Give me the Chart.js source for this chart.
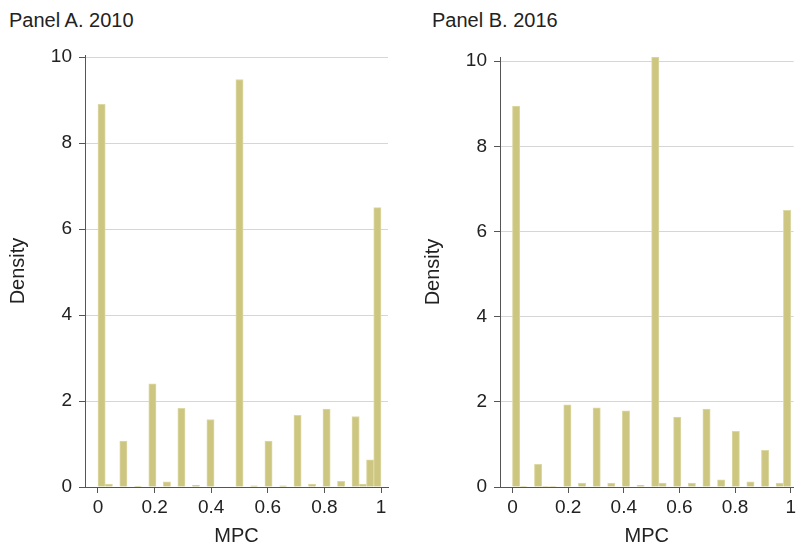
<!DOCTYPE html>
<html>
<head>
<meta charset="utf-8">
<script src="https://cdn.jsdelivr.net/npm/chart.js@4.4.1/dist/chart.umd.min.js"></script>
<style>
  html, body { margin: 0; padding: 0; background: #fff; overflow: hidden; }
  body { width: 799px; height: 546px; position: relative; }
  .panel { position: absolute; top: 0; height: 546px; }
  .ptitle { position: absolute; top: 9px; font: 20px "Liberation Sans", Arial, sans-serif; color: #222; white-space: nowrap; }
</style>
</head>
<body>
<div class="ptitle" style="left:9px">Panel A. 2010</div>
<div class="ptitle" style="left:432px">Panel B. 2016</div>
<div class="panel" style="left:0;width:400px"><canvas id="panel_a"></canvas></div>
<div class="panel" style="left:415px;width:384px"><canvas id="panel_b"></canvas></div>
<script>
  // histogram densities, one value per bin, bins span 0..1
  const binsA = 39;
  const densityA = [8.9, 0.07, 0, 1.07, 0, 0.02, 0, 2.4, 0, 0.12, 0, 1.83, 0, 0.04, 0, 1.57, 0, 0, 0, 9.48,
    0, 0.03, 0, 1.07, 0, 0.03, 0, 1.67, 0, 0.07, 0, 1.81, 0, 0.13, 0, 1.64, 0.07, 0.63, 6.5];
  const binsB = 38;
  const densityB = [8.95, 0.01, 0, 0.53, 0.01, 0.01, 0, 1.93, 0, 0.09, 0, 1.86, 0, 0.09, 0, 1.79, 0, 0.04, 0, 10.1,
    0.09, 0, 1.64, 0, 0.09, 0, 1.83, 0, 0.17, 0, 1.31, 0, 0.12, 0, 0.86, 0, 0.09, 6.5];
  const xTicks = [0, 0.2, 0.4, 0.6, 0.8, 1];
  const yTicks = [0, 2, 4, 6, 8, 10];

  const FONT = '"Liberation Sans", Arial, sans-serif';
  const TXT = '#222';
  const AXIS = '#555';

  function histogram(id, bins, values, o) {
    const pts = values.map((v, i) => ({ x: (i + 0.5) / bins, y: v }));
    return new Chart(document.getElementById(id), {
      type: 'bar',
      data: {
        datasets: [{
          data: pts,
          backgroundColor: '#cdc680',
          borderColor: '#dcd8a4',
          borderWidth: 1,
          barPercentage: 1,
          categoryPercentage: 1
        }]
      },
      options: {
        responsive: false,
        animation: false,
        devicePixelRatio: 1,
        layout: { padding: { top: o.top, right: o.right, left: 0, bottom: 0 } },
        plugins: { legend: { display: false }, tooltip: { enabled: false } },
        scales: {
          x: {
            type: 'linear',
            offset: false,
            min: o.xmin,
            max: o.xmax,
            afterBuildTicks: s => { s.ticks = xTicks.map(v => ({ value: v })); },
            afterFit: s => { s.height = 59; },
            grid: { offset: false, drawOnChartArea: false, tickLength: 6, tickColor: AXIS },
            border: { color: AXIS, width: 1 },
            ticks: { font: { family: FONT, size: 19 }, color: TXT, padding: 3, maxRotation: 0,
              callback: v => String(v) },
            title: { display: true, text: 'MPC', font: { family: FONT, size: 20, lineHeight: 1 },
              color: TXT, padding: { top: 0, bottom: 0 } }
          },
          y: {
            min: 0,
            max: o.ymax,
            afterBuildTicks: s => { s.ticks = yTicks.map(v => ({ value: v })); },
            afterFit: s => { s.width = 85; },
            grid: { tickLength: 6, tickColor: AXIS,
              color: c => (c.tick && c.tick.value === 0 ? 'rgba(0,0,0,0)' : '#d6d6d6') },
            border: { color: AXIS, width: 1 },
            ticks: { font: { family: FONT, size: 19 }, color: TXT, padding: 7 },
            title: { display: true, text: 'Density', font: { family: FONT, size: 20, lineHeight: 1 },
              color: TXT, padding: { top: 8, bottom: 0 } }
          }
        }
      }
    });
  }

  function setSize(id, w, h) {
    const c = document.getElementById(id);
    c.width = w; c.height = h;
    c.style.width = w + 'px'; c.style.height = h + 'px';
  }
  setSize('panel_a', 400, 546);
  setSize('panel_b', 384, 546);

  histogram('panel_a', binsA, densityA, { top: 55, right: 12, xmin: -0.0459, xmax: 1.0247, ymax: 10.05 });
  histogram('panel_b', binsB, densityB, { top: 57, right: 0, xmin: -0.0448, xmax: 1.0106, ymax: 10.1 });
</script>
</body>
</html>
